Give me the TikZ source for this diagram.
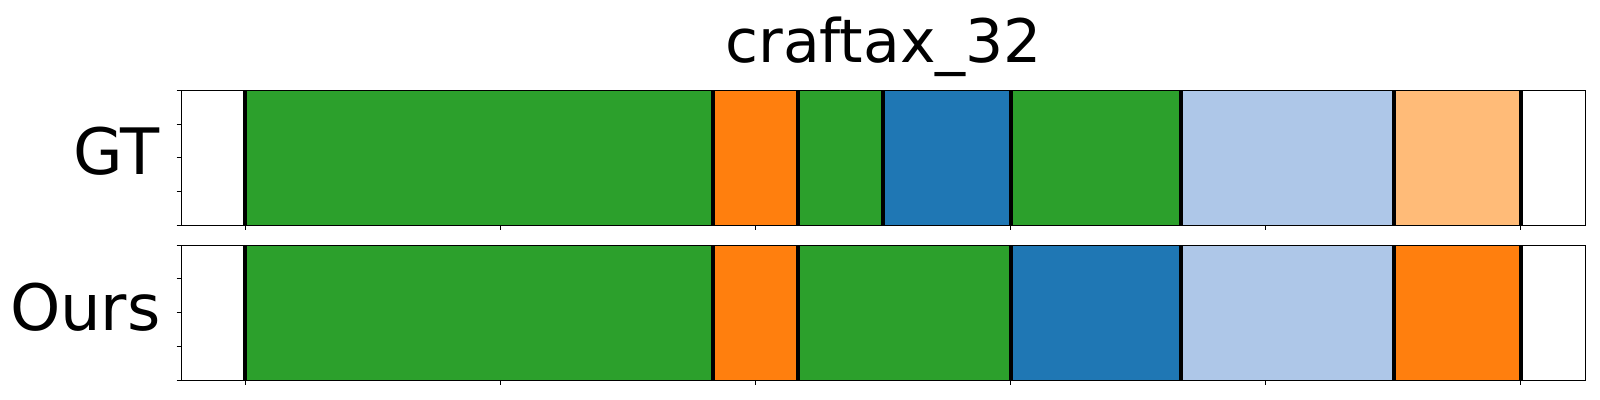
\documentclass[tikz,border=0pt]{standalone}
\usepackage{fontspec}
\setmainfont{DejaVu Sans}

\definecolor{tabgreen}{HTML}{2CA02C}
\definecolor{taborange}{HTML}{FF7F0E}
\definecolor{tabblue}{HTML}{1F77B4}
\definecolor{tablightblue}{HTML}{AEC7E8}
\definecolor{tablightorange}{HTML}{FFBB78}

\tikzset{
    frameline/.style={line width=0.65pt},
    cutline/.style={line width=2pt},
    ticks/.style={line width=0.5pt},
}

\begin{document}
\begin{tikzpicture}[x=0.5pt, y=-0.5pt]
    \useasboundingbox (0, 0) rectangle (1600, 400);

    % GT bar
    \foreach \a/\b/\c in {245/712.7/tabgreen, 712.7/798/taborange, 798/883/tabgreen, 883/1011/tabblue, 1011/1180.7/tabgreen, 1180.7/1394/tablightblue, 1394/1520.7/tablightorange}{
        \fill[\c] (\a, 90.5) rectangle (\b, 225.3);
    }
    \foreach \x in {245, 712.7, 798, 883, 1011, 1180.7, 1394, 1520.7}{
        \draw[cutline] (\x, 90.5) -- (\x, 225.3);
    }
    \draw[frameline] (181.5, 90.5) rectangle (1585.7, 225.3);

    % Ours bar
    \foreach \a/\b/\c in {245/712.7/tabgreen, 712.7/798/taborange, 798/1011/tabgreen, 1011/1180.7/tabblue, 1180.7/1394/tablightblue, 1394/1520.7/taborange}{
        \fill[\c] (\a, 245.3) rectangle (\b, 380.3);
    }
    \foreach \x in {245, 712.7, 798, 1011, 1180.7, 1394, 1520.7}{
        \draw[cutline] (\x, 245.3) -- (\x, 380.3);
    }
    \draw[frameline] (181.5, 245.3) rectangle (1585.7, 380.3);

    % ticks
    \foreach \s in {0, 33.7, ..., 135}{
        \draw[ticks] (176.5, 90.5+\s) -- (181.5, 90.5+\s);
        \draw[ticks] (176.5, 245.3+\s) -- (181.5, 245.3+\s);
    }
    \foreach \t in {0, 255, ..., 1275}{
        \draw[ticks] (245.7+\t, 225.3) -- (245.7+\t, 230.5);
        \draw[ticks] (245.7+\t, 380.3) -- (245.7+\t, 385.5);
    }

    \node[inner sep=0, anchor=base] (title) at (883.7, 62.3) {\fontsize{30}{36}\selectfont craftax\_32};
    \node[inner sep=0, anchor=base east] (gtlabel) at (160, 175) {\fontsize{32}{38}\selectfont GT};
    \node[inner sep=0, anchor=base east] (ourslabel) at (161, 330.7) {\fontsize{32}{38}\selectfont Ours};
\end{tikzpicture}
\end{document}
